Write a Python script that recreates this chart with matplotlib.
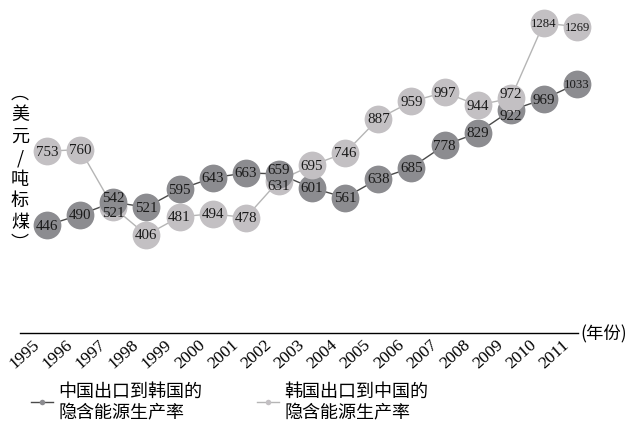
import numpy as np
import matplotlib.pyplot as plt
from matplotlib.lines import Line2D
from matplotlib.transforms import ScaledTranslation

years = list(range(1995, 2012))
cn_to_kr = [446, 490, 542, 521, 595, 643, 663, 659, 601, 561, 638, 685, 778, 829, 922, 969, 1033]
kr_to_cn = [753, 760, 521, 406, 481, 494, 478, 631, 695, 746, 887, 959, 997, 944, 972, 1284, 1269]
series_names = ["中国出口到韩国的\n隐含能源生产率", "韩国出口到中国的\n隐含能源生产率"]
y_label = "︵\n美\n元\n/\n吨\n标\n煤\n︶"
x_unit = "(年份)"

cjk = ['Noto Sans CJK SC', 'DejaVu Sans']
num_font = 'Liberation Serif'

dark_marker, dark_line = '#8c8c90', '#4a4a4a'
light_marker, light_line = '#c3c0c3', '#b5b5b5'

fig = plt.figure(figsize=(6.4, 4.27), dpi=100)
ax = fig.add_axes([20 / 640, 1 - 334 / 427, 558 / 640, 324 / 427])
ax.set_xlim(1995 - 27 / 33.125, 2011 + 1 / 33.125)
ax.set_ylim(0, 324 / 0.2414)

ax.plot(years, cn_to_kr, color=dark_line, lw=1.0, zorder=2)
ax.plot(years, kr_to_cn, color=light_line, lw=1.0, zorder=2)

# markers: higher value drawn on top
pts = [(y, v, dark_marker) for y, v in zip(years, cn_to_kr)] + \
      [(y, v, light_marker) for y, v in zip(years, kr_to_cn)]
pts.sort(key=lambda p: p[1])
for i, (yr, v, c) in enumerate(pts):
    ax.plot(yr, v, 'o', ms=20, mfc=c, mec='none', zorder=3 + i, clip_on=False)

top_z = 3 + len(pts) + 1
for yr, a, b in zip(years, cn_to_kr, kr_to_cn):
    for v, other in ((a, b), (b, a)):
        dy = 0
        if abs(v - other) < 60:
            dy = 3.5 if v > other else -3.5
        s = str(v)
        ax.annotate(s, (yr, v), xytext=(0, dy), textcoords='offset points',
                    ha='center', va='center', fontsize=10.8 if len(s) < 4 else 9.2,
                    family=num_font, color='#1a1a1a', zorder=top_z)

for sp in ['left', 'right', 'top']:
    ax.spines[sp].set_visible(False)
ax.spines['bottom'].set_linewidth(1.0)
ax.set_yticks([])
ax.set_xticks(years)
ax.tick_params(axis='x', length=0, pad=2)
ax.set_xticklabels([str(y) for y in years], rotation=42, ha='right',
                   family=num_font, fontsize=12.5)
offset = ScaledTranslation(-3 / 72, 0, fig.dpi_scale_trans)
for lbl in ax.get_xticklabels():
    lbl.set_transform(lbl.get_transform() + offset)

fig.text(20 / 640, 1 - 169 / 427, y_label, ha='center', va='center',
         family=cjk, fontsize=13, linespacing=1.25)
fig.text(580 / 640, 1 - 334 / 427, x_unit, ha='left', va='center',
         family=cjk, fontsize=12.5)

handles = [Line2D([], [], color=dark_line, lw=1, marker='o', ms=4, mfc=dark_marker, mec='none'),
           Line2D([], [], color=light_line, lw=1, marker='o', ms=4, mfc=light_marker, mec='none')]
fig.legend(handles, series_names, loc='lower left', bbox_to_anchor=(15 / 640, -0.026),
           ncol=2, frameon=False, handlelength=1.2, handletextpad=0.3,
           columnspacing=3.05, labelspacing=0.2, prop={'family': cjk, 'size': 13})

fig.savefig('out.png', dpi=100)
